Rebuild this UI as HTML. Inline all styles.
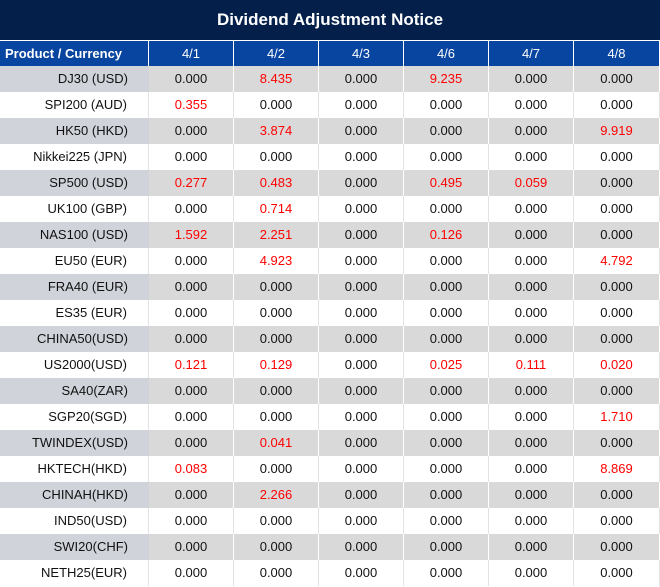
<!DOCTYPE html>
<html><head><meta charset="utf-8"><style>
body{margin:0;width:660px;height:587px;background:#fff;font-family:"Liberation Sans",sans-serif;overflow:hidden;position:relative}
#t{position:absolute;left:0;top:0;width:660px;height:40px;background:#031f4a;color:#fff;font-weight:bold;font-size:17px;text-align:center;line-height:40px}
#h{position:absolute;left:0;top:41px;height:25px;width:660px}
.r{position:absolute;left:0;width:660px;height:26px}
.c{position:absolute;top:0;height:100%;text-align:center;font-size:13px;line-height:26px;color:#111;box-sizing:border-box}
.f{left:0;width:149px;text-align:right;padding-right:21px}
#h .c{background:#0845a0;color:#fff;line-height:25px;border-right:1px solid #fff}
#h .f{text-align:left;padding-left:5px;font-weight:bold}
.g .f{background:#d0d4da}.g .c:not(.f){background:#d9d9d9;border-right:1px solid #fff}
.w .c{border-right:1px solid #e3e3e3}
.red{color:#f00!important}
</style></head><body>
<div id="t">Dividend Adjustment Notice</div>
<div id="h"><div class="c f">Product / Currency</div><div class="c" style="left:149px;width:85px">4/1</div><div class="c" style="left:234px;width:85px">4/2</div><div class="c" style="left:319px;width:85px">4/3</div><div class="c" style="left:404px;width:85px">4/6</div><div class="c" style="left:489px;width:85px">4/7</div><div class="c" style="left:574px;width:86px">4/8</div></div>
<div id="rows"></div>
<script>
var d=[["DJ30 (USD)","0.000","8.435","0.000","9.235","0.000","0.000"],
["SPI200 (AUD)","0.355","0.000","0.000","0.000","0.000","0.000"],
["HK50 (HKD)","0.000","3.874","0.000","0.000","0.000","9.919"],
["Nikkei225 (JPN)","0.000","0.000","0.000","0.000","0.000","0.000"],
["SP500 (USD)","0.277","0.483","0.000","0.495","0.059","0.000"],
["UK100 (GBP)","0.000","0.714","0.000","0.000","0.000","0.000"],
["NAS100 (USD)","1.592","2.251","0.000","0.126","0.000","0.000"],
["EU50 (EUR)","0.000","4.923","0.000","0.000","0.000","4.792"],
["FRA40 (EUR)","0.000","0.000","0.000","0.000","0.000","0.000"],
["ES35 (EUR)","0.000","0.000","0.000","0.000","0.000","0.000"],
["CHINA50(USD)","0.000","0.000","0.000","0.000","0.000","0.000"],
["US2000(USD)","0.121","0.129","0.000","0.025","0.111","0.020"],
["SA40(ZAR)","0.000","0.000","0.000","0.000","0.000","0.000"],
["SGP20(SGD)","0.000","0.000","0.000","0.000","0.000","1.710"],
["TWINDEX(USD)","0.000","0.041","0.000","0.000","0.000","0.000"],
["HKTECH(HKD)","0.083","0.000","0.000","0.000","0.000","8.869"],
["CHINAH(HKD)","0.000","2.266","0.000","0.000","0.000","0.000"],
["IND50(USD)","0.000","0.000","0.000","0.000","0.000","0.000"],
["SWI20(CHF)","0.000","0.000","0.000","0.000","0.000","0.000"],
["NETH25(EUR)","0.000","0.000","0.000","0.000","0.000","0.000"]];
var h="";d.forEach(function(r,i){h+='<div class="r '+(i%2?'w':'g')+'" style="top:'+(66+i*26)+'px"><div class="c f">'+r[0]+'</div>';
for(var j=1;j<7;j++){h+='<div class="c'+(r[j]!="0.000"?' red':'')+'" style="left:'+(149+(j-1)*85)+'px;width:'+(j==6?86:85)+'px">'+r[j]+'</div>';}h+='</div>';});
document.getElementById("rows").innerHTML=h;
</script>
</body></html>
